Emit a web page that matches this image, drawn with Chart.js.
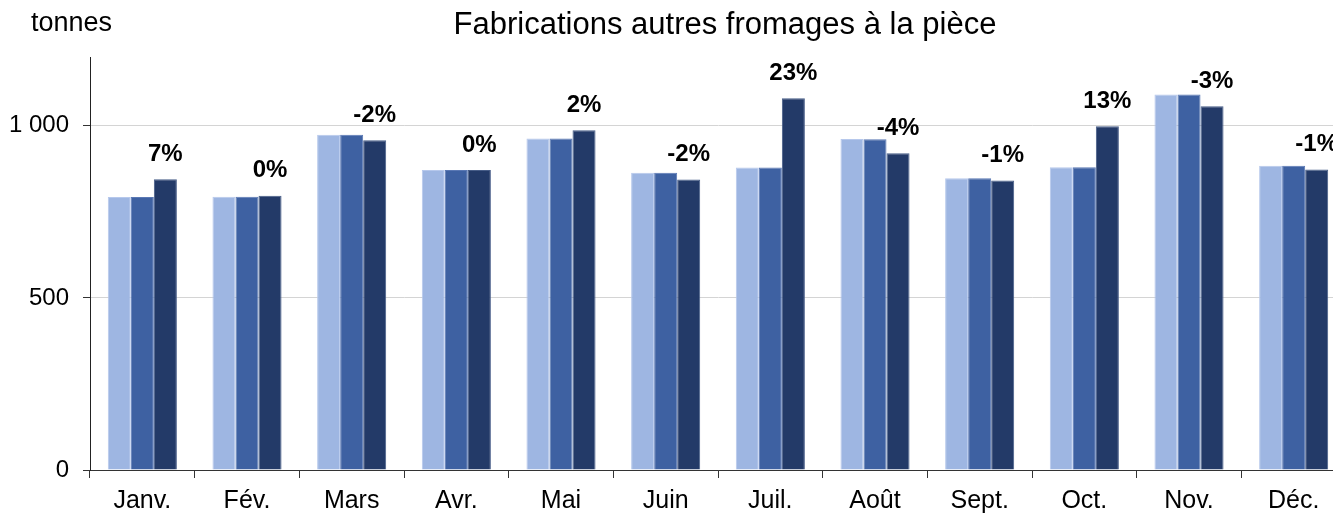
<!DOCTYPE html>
<html>
<head>
<meta charset="utf-8">
<script src="https://cdn.jsdelivr.net/npm/chart.js@4"></script>
<style>
  html, body { margin: 0; padding: 0; background: #fff; overflow: hidden; }
  #cadre { position: relative; width: 1333px; height: 514px; overflow: hidden; }
  #zone { position: absolute; left: 0; top: 0; width: 1350px; height: 514px; }
  .texte { position: absolute; font-family: "Liberation Sans", Arial, sans-serif; color: #000; line-height: 1; white-space: nowrap; }
  #unite { left: 31px; top: 9px; font-size: 27px; }
  #titre { left: 425px; top: 8px; width: 600px; text-align: center; font-size: 31px; }
</style>
</head>
<body>
<div id="cadre">
  <div id="zone"><canvas id="graficoFromages" width="1350" height="514"></canvas></div>
  <div class="texte" id="unite">tonnes</div>
  <div class="texte" id="titre">Fabrications autres fromages à la pièce</div>
</div>
<script>
var listMois = ['Janv.', 'Fév.', 'Mars', 'Avr.', 'Mai', 'Juin',
'Juil.', 'Août', 'Sept.', 'Oct.', 'Nov.', 'Déc.']

// trois séries de fabrication (tonnes)
var serieClaire = [793, 794, 974, 872, 963, 864, 879, 962, 848, 880, 1091, 884]
var serieMoyenne = [793, 794, 974, 872, 963, 864, 879, 961, 848, 880, 1091, 884]
var serieFoncee = [845, 797, 958, 872, 987, 844, 1080, 920, 841, 999, 1057, 873]

// évolution affichée au-dessus des barres
var listEvolution = ['7%', '0%', '-2%', '0%', '2%', '-2%', '23%', '-4%', '-1%', '13%', '-3%', '-1%']

var ticksY = [0, 500, 1000]

var police = '"Liberation Sans", Arial, sans-serif'

var pluginEvolution = {
  id: 'evolution',
  afterDatasetsDraw(chart) {
    var ctx = chart.ctx
    var meta = chart.getDatasetMeta(2)
    ctx.save()
    ctx.font = 'bold 24px ' + police
    ctx.fillStyle = '#000'
    ctx.textAlign = 'center'
    ctx.textBaseline = 'middle'
    for (var i = 0; i < meta.data.length; i++) {
      var barre = meta.data[i]
      ctx.fillText(listEvolution[i], barre.x, barre.y - 25)
    }
    ctx.restore()
  }
}

createFromages()

function createFromages() {

  var ctx = document.getElementById('graficoFromages');

  graficoFromages = new Chart(ctx, {
    type: 'bar',
    data: {
      labels: listMois,
      datasets: [{
        data: serieClaire,
        backgroundColor: 'rgb(158, 182, 226)',
        borderColor: 'rgb(182, 200, 236)',
        borderWidth: 1
      }, {
        data: serieMoyenne,
        backgroundColor: 'rgb(62, 97, 162)',
        borderColor: 'rgb(90, 120, 180)',
        borderWidth: 1
      }, {
        data: serieFoncee,
        backgroundColor: 'rgb(35, 58, 104)',
        borderColor: 'rgb(70, 92, 135)',
        borderWidth: 1
      }
      ]
    },
    options: {
      responsive: false,
      animation: false,
      layout: {
        padding: { top: 57, right: 4, left: 0, bottom: 0 }
      },
      plugins: {
        legend: { display: false },
        tooltip: { enabled: false }
      },
      datasets: {
        bar: {
          categoryPercentage: 0.66,
          barPercentage: 1.0
        }
      },
      scales: {
        x: {
          grid: {
            display: true,
            offset: true,
            drawOnChartArea: false,
            color: '#333',
            tickLength: 8
          },
          border: { color: '#333', width: 1 },
          ticks: {
            color: '#000',
            padding: 8,
            font: { family: police, size: 25 }
          },
          afterFit(scale) {
            scale.height = 44
          }
        },
        y: {
          min: 0,
          max: 1200,
          afterBuildTicks(axis) {
            axis.ticks = ticksY.map(v => ({ value: v }))
          },
          grid: {
            color: (c) => c.tick && c.tick.value === 0 ? '#333' : '#d4d4d4',
            tickColor: '#333',
            tickLength: 7
          },
          border: { color: '#222', width: 1 },
          ticks: {
            color: '#000',
            padding: 14,
            font: { family: police, size: 24 },
            callback: (v) => v >= 1000 ? Math.floor(v / 1000) + ' ' + String(v % 1000).padStart(3, '0') : String(v)
          },
          afterFit(scale) {
            scale.width = 90
          }
        }
      }
    },
    plugins: [pluginEvolution]
  });
}
</script>
</body>
</html>
